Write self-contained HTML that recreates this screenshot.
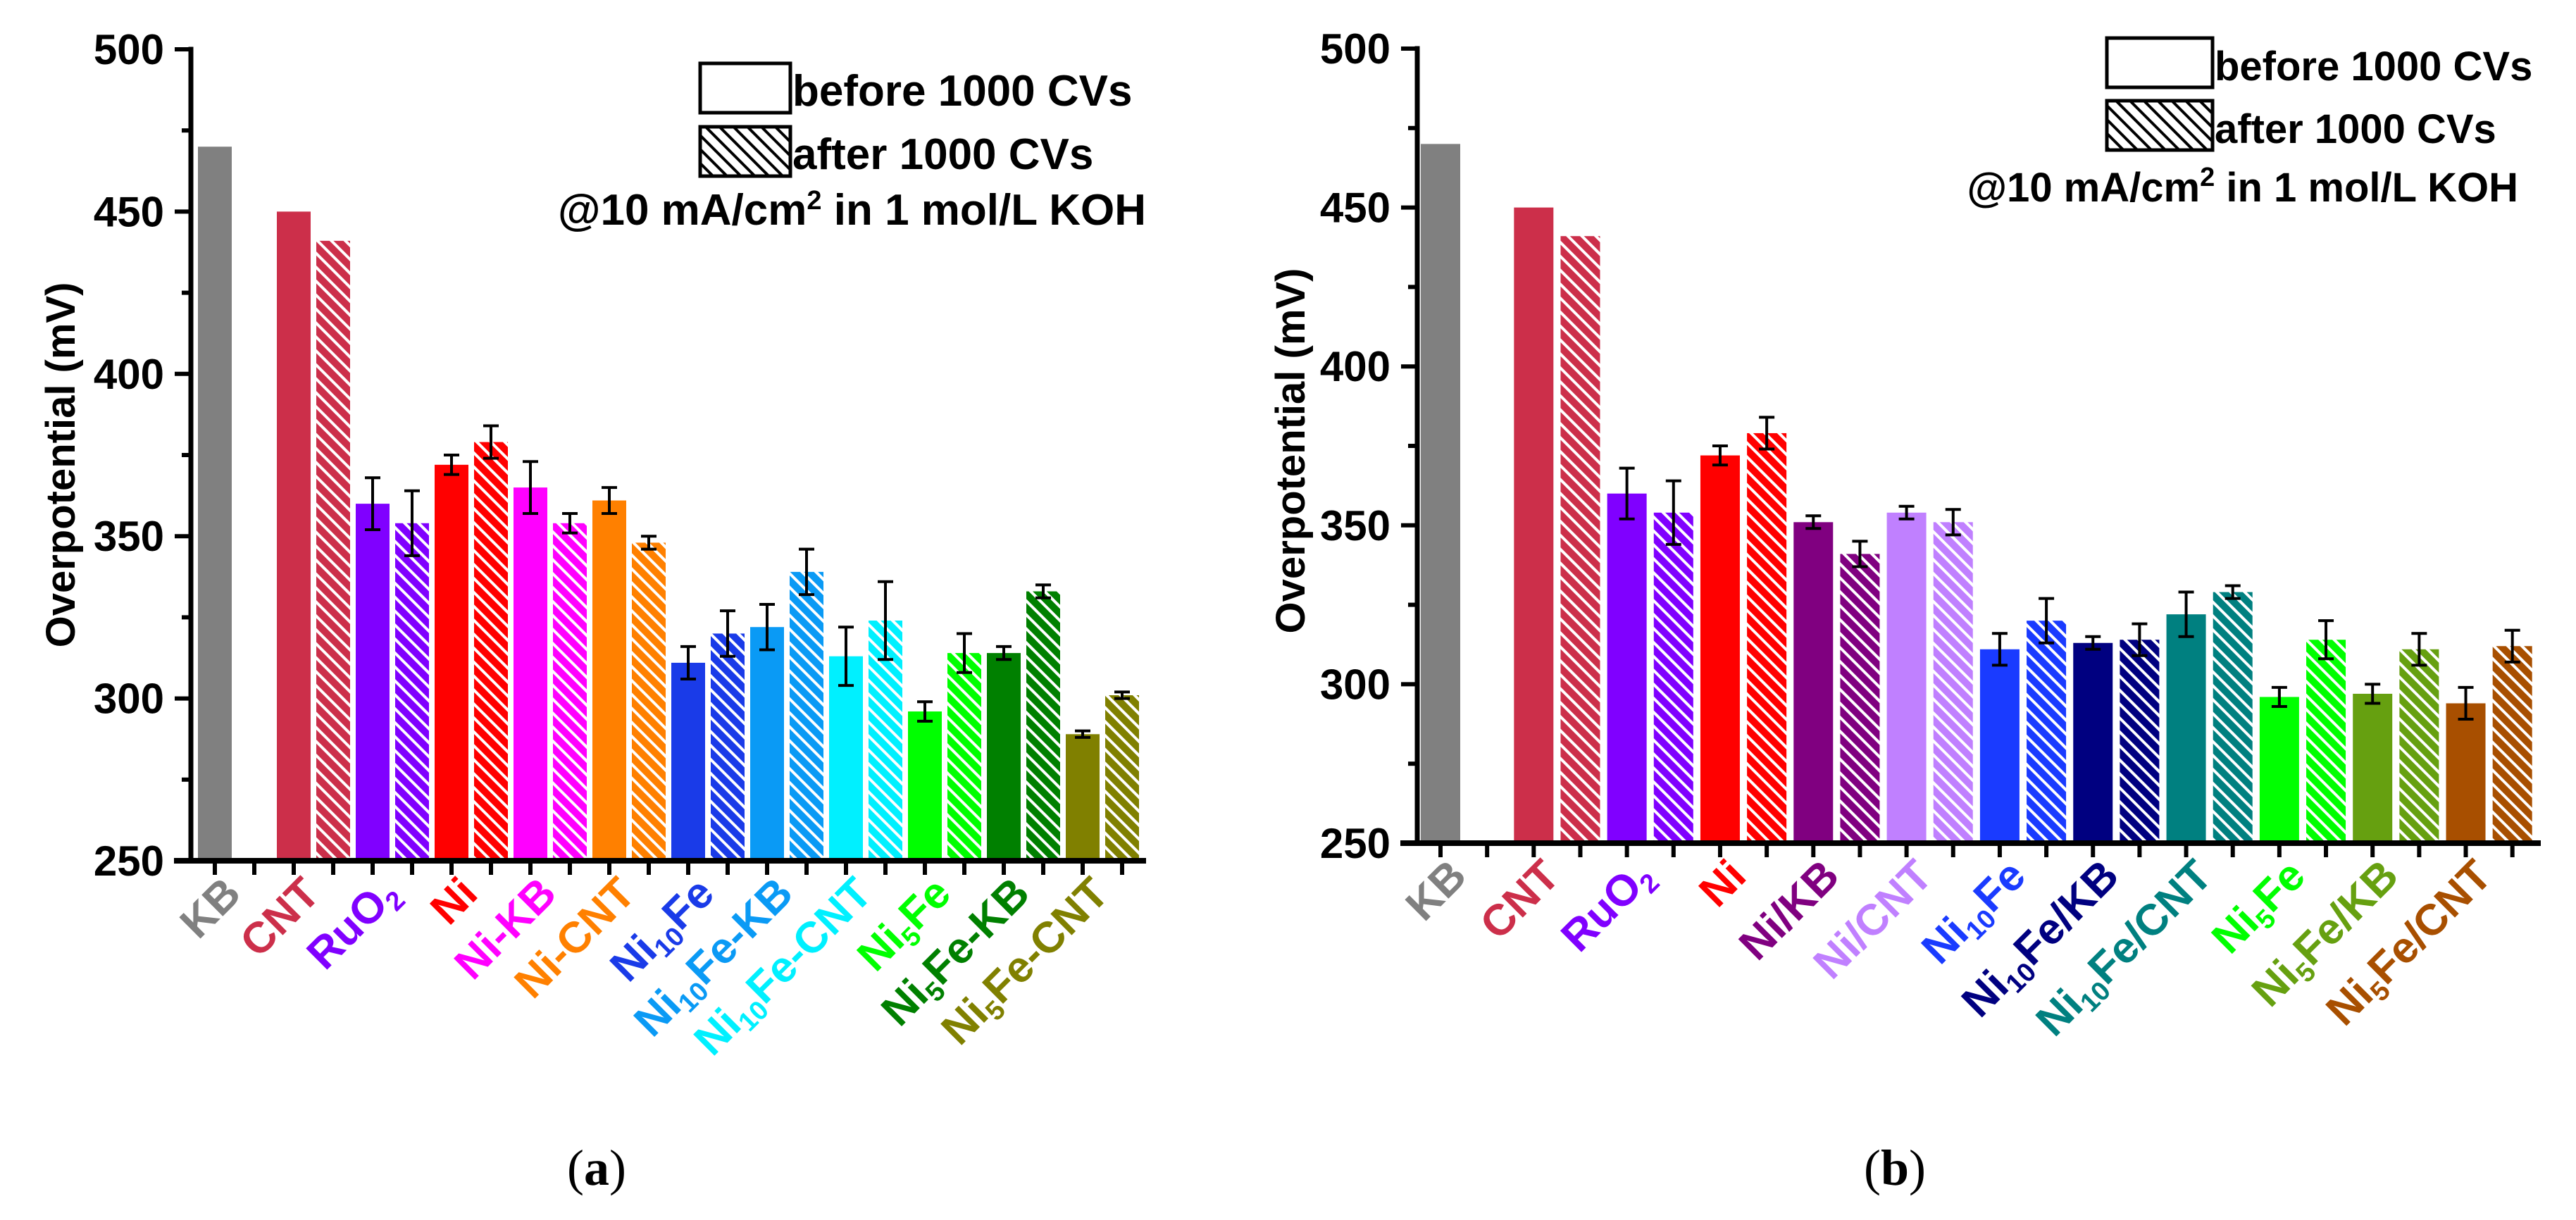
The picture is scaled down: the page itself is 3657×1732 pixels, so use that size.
<!DOCTYPE html>
<html><head><meta charset="utf-8"><title>Overpotential charts</title>
<style>
html,body{margin:0;padding:0;background:#fff;}
svg{display:block;font-family:"Liberation Sans",Arial,sans-serif;}
</style></head>
<body>
<svg id="fig" width="3657" height="1732" viewBox="0 0 3657 1732" xmlns="http://www.w3.org/2000/svg">
<defs id="defs">
  <pattern id="legendHatch" patternUnits="userSpaceOnUse" width="14" height="14" patternTransform="rotate(-45)">
    <rect width="14" height="14" fill="#fff"/>
    <line x1="7" y1="0" x2="7" y2="14" stroke="#000" stroke-width="4"/>
  </pattern>
</defs>
<rect width="3657" height="1732" fill="#fff"/>
<g id="chartA"></g>
<g id="chartB"></g>
<text x="847" y="1682" text-anchor="middle" font-family="Liberation Serif, serif" font-size="72">(<tspan font-weight="bold">a</tspan>)</text>
<text x="2690" y="1682" text-anchor="middle" font-family="Liberation Serif, serif" font-size="72">(<tspan font-weight="bold">b</tspan>)</text>
</svg>
<script>
// ---- chart (a) data ----
const catsA = ["KB","CNT","RuO2","Ni","Ni-KB","Ni-CNT","Ni10Fe","Ni10Fe-KB","Ni10Fe-CNT","Ni5Fe","Ni5Fe-KB","Ni5Fe-CNT"];
const colorsA = ["#808080","#cc2f4a","#8000ff","#ff0000","#ff00ff","#ff8000","#1a3be8","#0a9af5","#00f0ff","#00ff00","#008000","#808000"];
const beforeA = [470,450,360,372,365,361,311,322,313,296,314,289];
const beforeErrA = [0,0,8,3,8,4,5,7,9,3,2,1];
const afterA = [null,441,354,379,354,348,320,339,324,314,333,301];
const afterErrA = [0,0,10,5,3,2,7,7,12,6,2,1];
// ---- chart (b) data ----
const catsB = ["KB","CNT","RuO2","Ni","Ni/KB","Ni/CNT","Ni10Fe","Ni10Fe/KB","Ni10Fe/CNT","Ni5Fe","Ni5Fe/KB","Ni5Fe/CNT"];
const colorsB = ["#808080","#cc2f4a","#8000ff","#ff0000","#800080","#c080ff","#1a3bff","#000080","#008080","#00ff00","#66a010","#a84f00"];
const beforeB = [470,450,360,372,351,354,311,313,322,296,297,294];
const beforeErrB = [0,0,8,3,2,2,5,2,7,3,3,5];
const afterB = [null,441,354,379,341,351,320,314,329,314,311,312];
const afterErrB = [0,0,10,5,4,4,7,5,2,6,5,5];
const yTicks = [250,300,350,400,450,500];

const NS = "http://www.w3.org/2000/svg";
function mk(tag, attrs, parent){
  const e = document.createElementNS(NS, tag);
  for (const k in attrs) e.setAttribute(k, attrs[k]);
  if (parent) parent.appendChild(e);
  return e;
}
const defs = document.getElementById('defs');
const patCache = {};
function hatch(color){
  if (patCache[color]) return patCache[color];
  const id = 'h' + color.replace('#','');
  const p = mk('pattern', {id:id, patternUnits:'userSpaceOnUse', width:14, height:14, patternTransform:'rotate(-45)'}, defs);
  mk('rect', {width:14, height:14, fill:color}, p);
  mk('line', {x1:7, y1:0, x2:7, y2:14, stroke:'#fff', 'stroke-width':4}, p);
  patCache[color] = 'url(#' + id + ')';
  return patCache[color];
}
function addLabel(t, label, fs){
  const parts = label.split(/(\d+)/);
  let sub = false;
  parts.forEach(s => {
    if (!s) return;
    const isNum = /^\d+$/.test(s);
    const ts = document.createElementNS(NS, 'tspan');
    if (isNum) { ts.setAttribute('font-size', Math.round(fs*0.62)); ts.setAttribute('dy', 12); sub = true; }
    else if (sub) { ts.setAttribute('dy', -12); sub = false; }
    ts.textContent = s;
    t.appendChild(ts);
  });
}

function drawChart(g, cfg, cats, colors, before, beforeErr, after, afterErr){
  const yScale = v => cfg.yBot - (v - 250) * (cfg.yBot - cfg.yTop) / 250;
  const xSlot = i => cfg.x0 + i * cfg.step;
  cats.forEach((c, i) => {
    const pairs = [[before[i], beforeErr[i], colors[i], 2*i, 'before'], [after[i], afterErr[i], hatch(colors[i]), 2*i+1, 'after']];
    pairs.forEach(([v, e, fill, slot, kind]) => {
      if (v === null || v === undefined) return;
      const cx = xSlot(slot);
      const r = mk('rect', {x: cx - cfg.bw/2, y: yScale(v), width: cfg.bw, height: cfg.yBot - yScale(v), fill: fill}, g);
      
      
      if (e > 0) {
        const eg = mk('g', {stroke:'#000', 'stroke-width':4}, g);
        
        
        mk('line', {x1:cx, x2:cx, y1:yScale(v+e), y2:yScale(v-e)}, eg);
        mk('line', {x1:cx-11, x2:cx+11, y1:yScale(v+e), y2:yScale(v+e)}, eg);
        mk('line', {x1:cx-11, x2:cx+11, y1:yScale(v-e), y2:yScale(v-e)}, eg);
      }
    });
  });
  const ax = mk('g', {stroke:'#000', 'stroke-linecap':'square'}, g);
  
  
  mk('line', {x1:cfg.axisX, y1:cfg.yTop, x2:cfg.axisX, y2:cfg.yBot, 'stroke-width':7}, ax);
  mk('line', {x1:cfg.axisX-20, y1:cfg.yBot, x2:cfg.axisEnd, y2:cfg.yBot, 'stroke-width':8}, ax);
  yTicks.forEach(v => {
    const y = yScale(v);
    mk('line', {x1:cfg.axisX-20, x2:cfg.axisX, y1:y, y2:y, 'stroke-width':6}, ax);
    const t = mk('text', {x: cfg.axisX-38, y: y+21, 'text-anchor':'end', 'font-size':60, 'font-weight':'bold', fill:'#000', stroke:'none'}, g);
    
    
    t.textContent = v;
    if (v < 500) mk('line', {x1:cfg.axisX-10, x2:cfg.axisX, y1:yScale(v+25), y2:yScale(v+25), 'stroke-width':6}, ax);
  });
  for (let s = 0; s < cats.length*2; s++) {
    mk('line', {x1:xSlot(s), x2:xSlot(s), y1:cfg.yBot, y2:cfg.yBot+20, 'stroke-width':6, 'stroke-linecap':'butt'}, ax);
  }
  cats.forEach((c, i) => {
    const px = xSlot(2*i) + 40, py = cfg.yBot + 50;
    const t = mk('text', {x:px, y:py, 'text-anchor':'end', 'font-size':62, 'font-weight':'bold', fill:colors[i], transform:'rotate(-45 '+px+' '+py+')'}, g);
    
    
    addLabel(t, c, 62);
  });
  const tx = cfg.titleX, ty = cfg.titleY;
  const yt = mk('text', {x:tx, y:ty, 'text-anchor':'middle', 'font-size':58, 'font-weight':'bold', transform:'rotate(-90 '+tx+' '+ty+')'}, g);
  
  
  yt.textContent = 'Overpotential (mV)';
  const lg = mk('g', {}, g);
  
  
  const L = cfg.legend;
  const b1 = mk('rect', {x:L.x, y:L.y1, width:L.w, height:L.h, fill:'#fff', stroke:'#000', 'stroke-width':5}, lg);
  
  
  const b2 = mk('rect', {x:L.x, y:L.y2, width:L.w, height:L.h, fill:'url(#legendHatch)', stroke:'#000', 'stroke-width':5}, lg);
  
  
  const t1 = mk('text', {x:L.x+L.w+3, y:L.y1+L.h-10, 'font-size':L.fs, 'font-weight':'bold'}, lg);
  
  
  t1.textContent = 'before 1000 CVs';
  const t2 = mk('text', {x:L.x+L.w+3, y:L.y2+L.h-10, 'font-size':L.fs, 'font-weight':'bold'}, lg);
  
  
  t2.textContent = 'after 1000 CVs';
  const t3 = mk('text', {x:L.noteX, y:L.noteY, 'text-anchor':'end', 'font-size':L.fs, 'font-weight':'bold'}, lg);
  
  
  t3.innerHTML = '@10 mA/cm<tspan dy="-22" font-size="38">2</tspan><tspan dy="22"> in 1 mol/L KOH</tspan>';
}

drawChart(document.getElementById('chartA'),
  {x0:305, step:56, bw:48, yTop:70, yBot:1222, axisX:271, axisEnd:1623, titleX:106, titleY:660,
   legend:{x:994, y1:90, y2:180, w:128, h:70, fs:62, noteX:1627, noteY:319}},
  catsA, colorsA, beforeA, beforeErrA, afterA, afterErrA);
drawChart(document.getElementById('chartB'),
  {x0:2045, step:66.16, bw:56, yTop:69, yBot:1197, axisX:2012, axisEnd:3603, titleX:1852, titleY:640,
   legend:{x:2991, y1:54, y2:143, w:150, h:70, fs:58, noteX:3575, noteY:286}},
  catsB, colorsB, beforeB, beforeErrB, afterB, afterErrB);
</script>
</body></html>
